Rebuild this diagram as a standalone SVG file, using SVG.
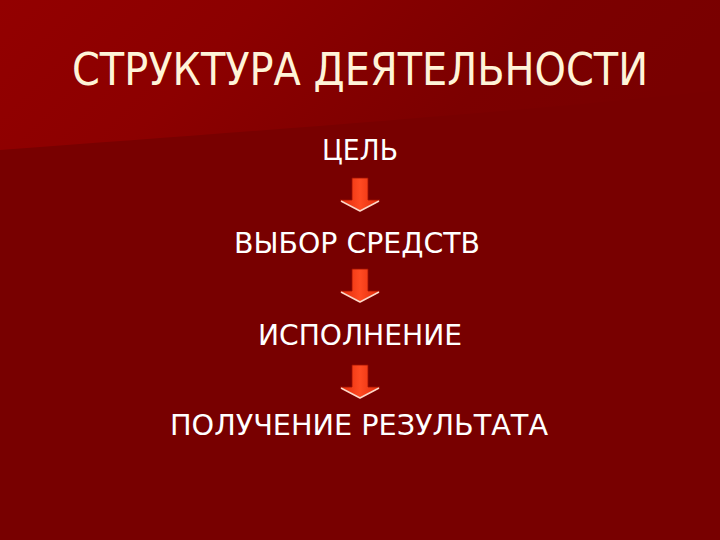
<svg xmlns="http://www.w3.org/2000/svg" width="720" height="540" viewBox="0 0 720 540">
<defs>
<linearGradient id="bgTop" x1="0" y1="0" x2="1" y2="0.2">
<stop offset="0" stop-color="#930000"/>
<stop offset="0.35" stop-color="#8c0000"/>
<stop offset="0.75" stop-color="#7c0000"/>
<stop offset="1" stop-color="#790000"/>
</linearGradient>
<linearGradient id="arrowFill" x1="0" y1="0" x2="1" y2="0">
<stop offset="0" stop-color="#e02808"/>
<stop offset="0.5" stop-color="#ff4a22"/>
<stop offset="1" stop-color="#e02808"/>
</linearGradient>
<path id="arrow" d="M-8,0 H8 V22 H20 L0,33 L-20,22 H-8 Z"/>
<style>
.title{font-family:"DejaVu Sans","Liberation Sans",sans-serif;font-stretch:condensed;font-size:44px;fill:#fff4d8;text-anchor:middle}
.lbl{font-family:"DejaVu Sans","Liberation Sans",sans-serif;font-stretch:condensed;font-size:29px;fill:#ffffff;text-anchor:middle}
.arr{fill:url(#arrowFill);stroke:#a01000;stroke-width:0.8}
.hl{fill:none;stroke:#ffd8c8;stroke-width:1.6;stroke-linejoin:round}
</style>
</defs>
<rect width="720" height="540" fill="#780000"/>
<path d="M0,0 H720 V90 C560,108 300,128 0,150 Z" fill="url(#bgTop)"/>
<text class="title" x="360" y="85" textLength="576" lengthAdjust="spacingAndGlyphs">СТРУКТУРА ДЕЯТЕЛЬНОСТИ</text>
<g id="node-goal"><text class="lbl" x="360" y="160" textLength="76" lengthAdjust="spacingAndGlyphs">ЦЕЛЬ</text></g>
<g id="node-means"><text class="lbl" x="357" y="253" textLength="246" lengthAdjust="spacingAndGlyphs">ВЫБОР СРЕДСТВ</text></g>
<g id="node-exec"><text class="lbl" x="360" y="345" textLength="204" lengthAdjust="spacingAndGlyphs">ИСПОЛНЕНИЕ</text></g>
<g id="node-result"><text class="lbl" x="359" y="435" textLength="378" lengthAdjust="spacingAndGlyphs">ПОЛУЧЕНИЕ РЕЗУЛЬТАТА</text></g>
<g id="connectors">
<g transform="translate(360,178)"><use href="#arrow" class="arr"/><path class="hl" d="M-19,23 L0,33 L19,23"/></g>
<g transform="translate(360,269)"><use href="#arrow" class="arr"/><path class="hl" d="M-19,23 L0,33 L19,23"/></g>
<g transform="translate(360,365)"><use href="#arrow" class="arr"/><path class="hl" d="M-19,23 L0,33 L19,23"/></g>
</g>
</svg>
